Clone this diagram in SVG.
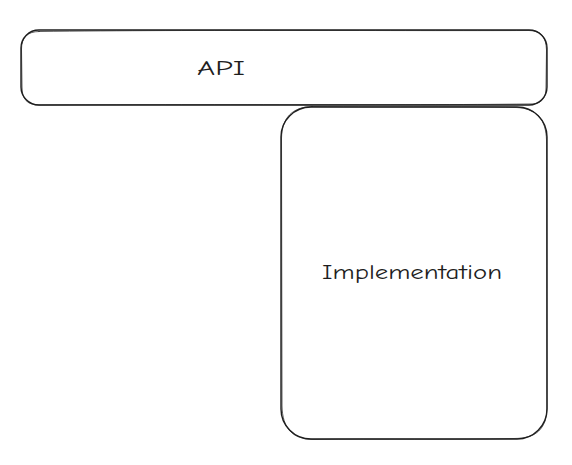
<svg xmlns="http://www.w3.org/2000/svg" width="572" height="465" viewBox="0 0 572 465">
<style>
.box{fill:none;stroke:#1e1e1e;stroke-width:1.4;stroke-linecap:round}
.box2{fill:none;stroke:#1e1e1e;stroke-width:0.9;stroke-linecap:round;opacity:0.8}
.lbl{font-family:"Comic Neue","Liberation Sans",sans-serif;font-size:20px;fill:#1e1e1e;text-anchor:middle}
</style>
<rect width="572" height="465" fill="#ffffff"/>
<g id="api">
<rect class="box" x="21" y="30" width="526" height="75" rx="18" ry="18"/>
<path class="box2" d="M39 31.5 C200 29.5 400 31 529 30.5 C542 30.5 546 38 546.5 50 L546 88 C546 99 541 104.5 529 104 C400 105.5 200 104 39 105 C27 105 22 99 22 87 L21.5 49 C21.5 38 27 31.5 39 31.5 Z"/>
<text class="lbl" x="221" y="75" textLength="48" lengthAdjust="spacingAndGlyphs">API</text>
</g>
<g id="implementation">
<rect class="box" x="281" y="107" width="266" height="332" rx="30" ry="30"/>
<path class="box2" d="M312 106.5 C400 107.5 460 106 516 107.5 C538 108 546 121 546.5 140 L547 408 C546.5 429 536 438.5 514 438.5 C450 440 380 438.5 313 439.5 C292 439 282.5 428 282 406 L281.5 138 C282 118 292 107 312 106.5 Z"/>
<text class="lbl" x="412" y="279" textLength="180" lengthAdjust="spacingAndGlyphs">Implementation</text>
</g>
<g id="connectors"></g>
</svg>
